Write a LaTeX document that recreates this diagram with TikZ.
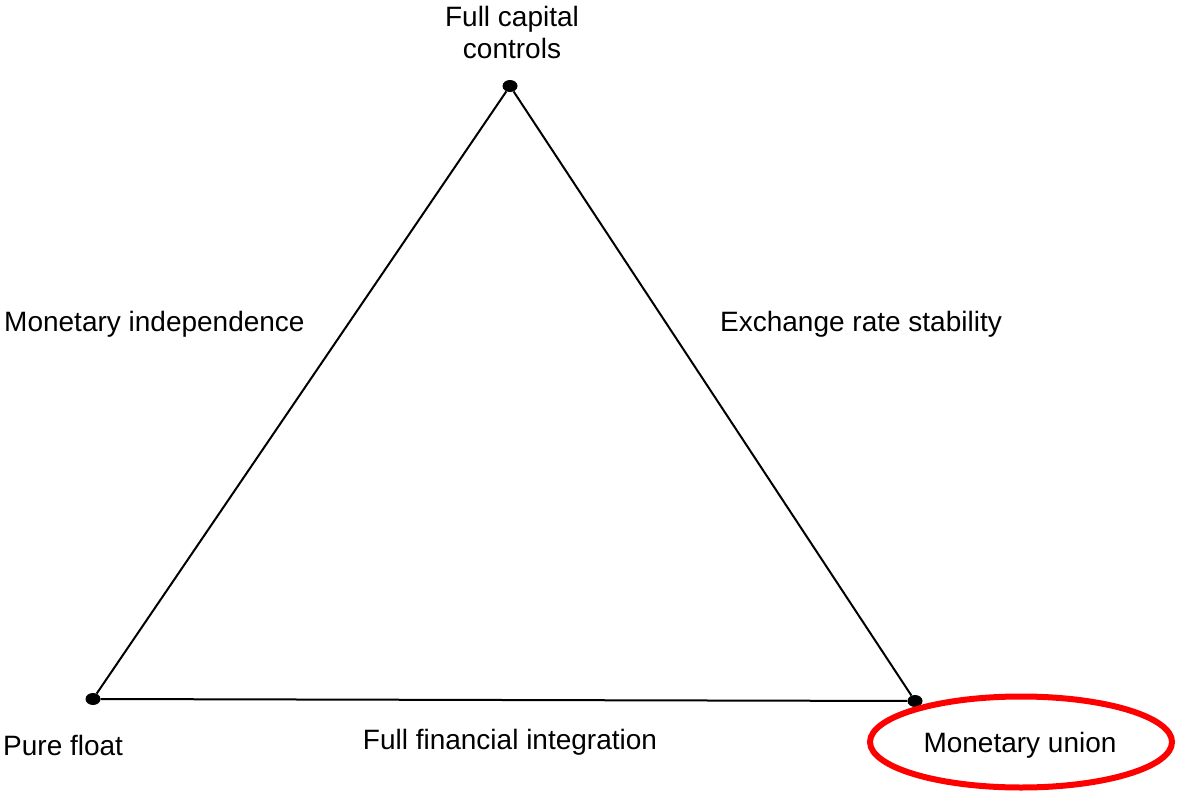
\documentclass[tikz,border=0pt]{standalone}
\usepackage{fontspec}
\usetikzlibrary{shapes.geometric}
\setmainfont{Liberation Sans}
\begin{document}
\begin{tikzpicture}[x=1pt,y=-1pt,
  lbl/.style={inner sep=0pt,font=\fontsize{28}{32}\selectfont},
  vdot/.style={ellipse,fill=black,inner sep=0pt,minimum width=15pt,minimum height=12pt},
  edge/.style={line width=2pt}]
\useasboundingbox (0,0) rectangle (1183,794);
\node[vdot] (T) at (510,86) {};
\node[vdot] (L) at (93,699) {};
\node[vdot] (R) at (915,701) {};
\draw[edge] (T) -- (L);
\draw[edge] (T) -- (R);
\draw[edge] (L) -- (R);
\node[lbl,align=center] (fcc) at (512,32) {Full capital\\controls};
\node[lbl,anchor=west] (mi) at (4,324) {Monetary independence};
\node[lbl] (ers) at (861,324) {Exchange rate stability};
\node[lbl,anchor=west] (pf) at (3,745) {Pure float};
\node[lbl] (ffi) at (510,742) {Full financial integration};
\node[lbl] (mu) at (1020,745) {Monetary union};
\node[draw=red,line width=6pt,ellipse,minimum width=302pt,minimum height=91pt,inner sep=0pt] (ell) at (1021,742) {};
\end{tikzpicture}
\end{document}
